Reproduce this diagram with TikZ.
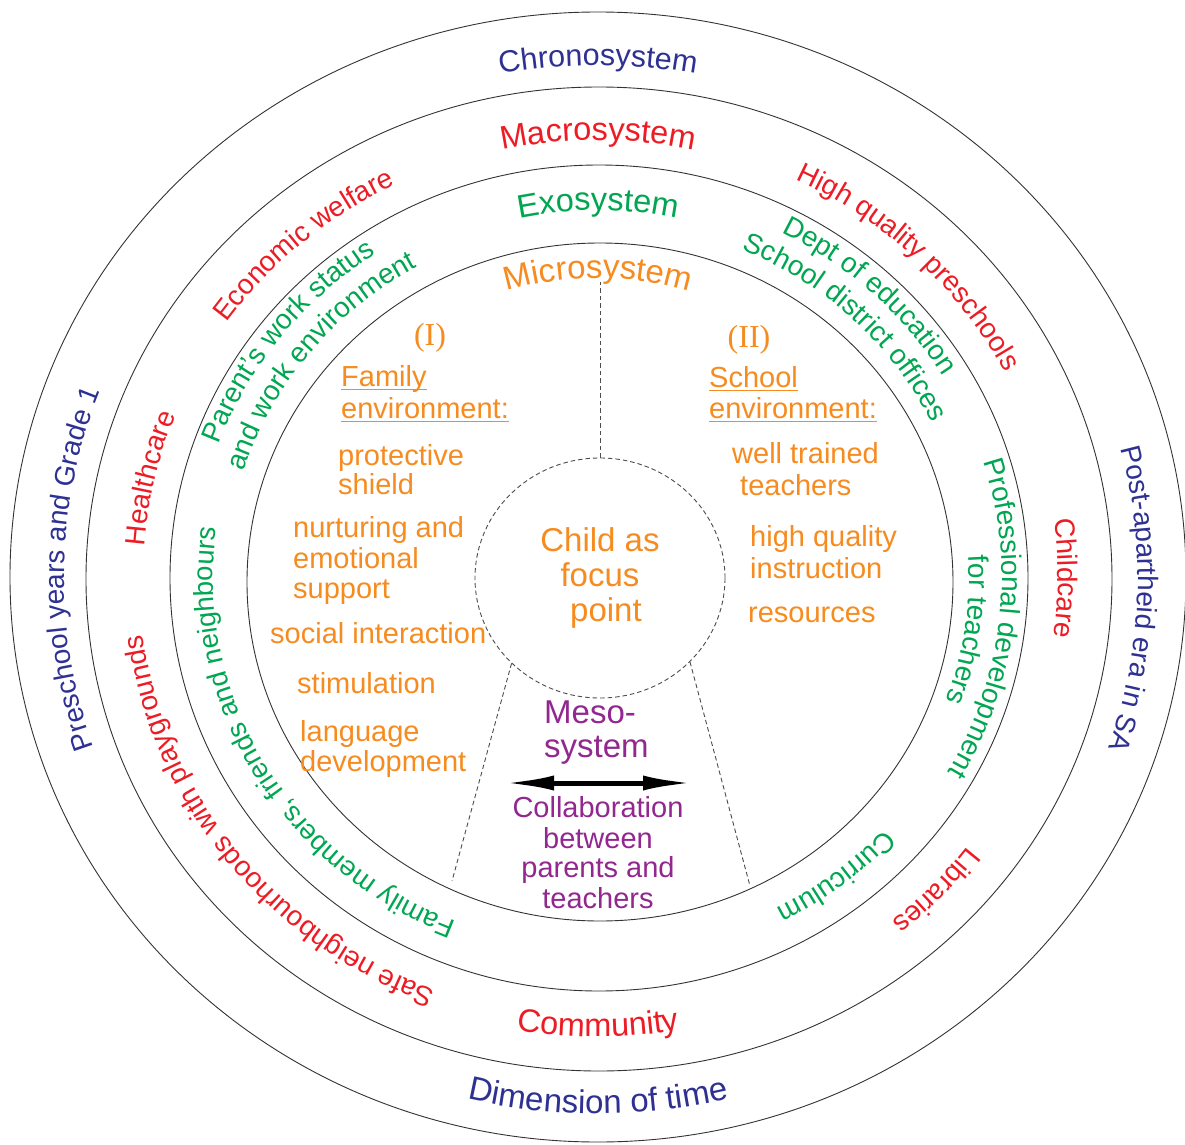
\documentclass[tikz,border=0pt]{standalone}
\usepackage{fontspec}
\setmainfont{Liberation Sans}
\newfontfamily\romanfont{Liberation Serif}
\usetikzlibrary{decorations.text,shapes.geometric,arrows.meta}

\definecolor{chronoblue}{RGB}{46,49,146}
\definecolor{macrored}{RGB}{237,28,36}
\definecolor{exogreen}{RGB}{0,166,81}
\definecolor{microorange}{RGB}{246,139,31}
\definecolor{mesopurple}{RGB}{146,39,143}

% text set clockwise along an elliptic ring (letter tops point outward)
% #1 colour, #2 size, #3 x radius of baseline, #4 centre angle, #5 half span, #6 text
\newcommand\ringlabel[6]{%
  \pgfmathsetmacro\rlry{0.96*#3}%
  \pgfmathsetmacro\rlstart{#4+#5}%
  \pgfmathsetmacro\rlend{#4-#5}%
  \path[decorate, decoration={text along path, text align=center,
      text={|\fontsize{#2}{#2}\selectfont\color{#1}|#6}}]
    (\rlstart:#3pt and \rlry pt)
    arc[start angle=\rlstart, end angle=\rlend, x radius=#3pt, y radius=\rlry pt];}
% same, counter-clockwise (letter tops point inward)
\newcommand\ringlabelccw[6]{%
  \pgfmathsetmacro\rlry{0.96*#3}%
  \pgfmathsetmacro\rlstart{#4-#5}%
  \pgfmathsetmacro\rlend{#4+#5}%
  \path[decorate, decoration={text along path, text align=center,
      text={|\fontsize{#2}{#2}\selectfont\color{#1}|#6}}]
    (\rlstart:#3pt and \rlry pt)
    arc[start angle=\rlstart, end angle=\rlend, x radius=#3pt, y radius=\rlry pt];}

% underlined heading word
\newcommand\ulword[1]{\setbox0=\hbox{#1}\rlap{\rule[-4pt]{\wd0}{1.5pt}}\box0}

\tikzset{
  ring/.style={draw=black!80, line width=0.9pt},
  guide/.style={draw=black!70, line width=0.9pt, dash pattern=on 4.5pt off 3pt},
  itemtext/.style={anchor=base west, inner sep=0pt, text=microorange,
    font=\fontsize{29}{31}\selectfont},
  romantext/.style={anchor=base, inner sep=0pt, text=microorange,
    font=\romanfont\fontsize{32}{34}\selectfont},
  mesotext/.style={inner sep=0pt, text=mesopurple, font=\fontsize{33}{35}\selectfont},
  collabtext/.style={anchor=base, inner sep=0pt, text=mesopurple,
    font=\fontsize{29}{31}\selectfont},
}

\begin{document}
\begin{tikzpicture}[x=1pt, y=1pt]
\fill[white] (-598,-566) rectangle (587,578);
\useasboundingbox (-598,-566) rectangle (587,578);

% the four system rings
\draw[ring] (0,1) ellipse [x radius=588pt, y radius=565pt];
\draw[ring] (1,-1) ellipse [x radius=513pt, y radius=492pt];
\draw[ring] (1,0) ellipse [x radius=429pt, y radius=413pt];
\draw[ring] (2,-4) ellipse [x radius=353pt, y radius=339pt];

% chronosystem ring
\ringlabel{chronoblue}{30.5}{534}{90}{30}{Chronosystem}
\ringlabel{chronoblue}{28}{534}{179}{30}{Preschool years and Grade 1}
\ringlabel{chronoblue}{28}{540}{-2.3}{30}{Post-apartheid era in SA}
\ringlabelccw{chronoblue}{33}{558}{270}{30}{Dimension of time}

% macrosystem ring
\ringlabel{macrored}{32.5}{456}{90}{30}{Macrosystem}
\ringlabel{macrored}{28}{457}{130.5}{25}{Economic welfare}
\ringlabel{macrored}{28}{455}{167}{20}{Healthcare}
\ringlabel{macrored}{28}{459}{218.2}{40}{Safe neighbourhoods with playgrounds}
\ringlabel{macrored}{28}{460}{46}{30}{High quality preschools}
\ringlabel{macrored}{28}{460}{0}{20}{Childcare}
\ringlabel{macrored}{28}{463}{-43.75}{20}{Libraries}
\ringlabelccw{macrored}{32.5}{478}{270}{25}{Community}

% exosystem ring
\ringlabel{exogreen}{32.5}{383}{90}{30}{Exosystem}
\ringlabel{exogreen}{28}{404}{141.8}{30}{Parent's work status}
\ringlabel{exogreen}{28}{371}{141.1}{35}{and work environment}
\ringlabel{exogreen}{27.5}{385}{210}{55}{Family members, friends and neighbours}
\ringlabel{exogreen}{28}{404}{47}{30}{Dept of education}
\ringlabel{exogreen}{28}{371}{46.4}{30}{School district offices}
\ringlabel{exogreen}{28}{404}{-6.2}{35}{Professional development}
\ringlabel{exogreen}{28}{371}{-8.3}{20}{for teachers}
\ringlabel{exogreen}{28}{388}{-52.4}{20}{Curriculum}

% microsystem
\ringlabel{microorange}{33}{312.5}{90}{35}{Microsystem}

% family environment
\node[romantext] (famnum) at (-168,233) {(I)};
\node[itemtext] (fam1) at (-257,192) {\ulword{Family}};
\node[itemtext] (fam2) at (-257,160) {\ulword{environment:}};
\node[itemtext] (prot1) at (-260,113) {protective};
\node[itemtext] (prot2) at (-260,84) {shield};
\node[itemtext] (nur1) at (-305,41) {nurturing and};
\node[itemtext] (nur2) at (-305,10) {emotional};
\node[itemtext] (nur3) at (-305,-20) {support};
\node[itemtext] (soc) at (-328,-65) {social interaction};
\node[itemtext] (stim) at (-301,-115) {stimulation};
\node[itemtext] (lang1) at (-298,-163) {language};
\node[itemtext] (lang2) at (-298,-193) {development};

% school environment
\node[romantext] (schnum) at (151,231) {(II)};
\node[itemtext] (sch1) at (111,191) {\ulword{School}};
\node[itemtext] (sch2) at (111,160) {\ulword{environment:}};
\node[itemtext] (well1) at (134,115) {well trained};
\node[itemtext] (well2) at (142,83) {teachers};
\node[itemtext] (hq1) at (152,32) {high quality};
\node[itemtext] (hq2) at (152,0) {instruction};
\node[itemtext] (res) at (150,-44) {resources};

% the child at the centre
\node[guide, ellipse, minimum width=250pt, minimum height=240pt, inner sep=0pt,
      align=center, text=microorange, font=\fontsize{33}{35}\selectfont]
  (child) at (2,0) {Child as\\focus\\\hspace*{12pt}point};

\coordinate (microtop) at (2,296);
\coordinate (mesoL) at (-146,-303);
\coordinate (mesoR) at (152,-308);
\draw[guide] (child.north) -- (microtop);
\draw[guide] (child.224) -- (mesoL);
\draw[guide] (child.317) -- (mesoR);

% mesosystem
\node[mesotext, anchor=base west] (meso1) at (-54,-145) {Meso-};
\node[mesotext, anchor=base west] (meso2) at (-54,-179) {system};
\coordinate (arrowL) at (-94,-205);
\coordinate (arrowR) at (95,-205);
\draw[line width=5pt, {Latex[length=50pt,width=15pt]}-{Latex[length=50pt,width=15pt]}]
  (arrowL) -- (arrowR);
\node[collabtext] (col1) at (0,-239) {Collaboration};
\node[collabtext] (col2) at (0,-270) {between};
\node[collabtext] (col3) at (0,-299) {parents and};
\node[collabtext] (col4) at (0,-330) {teachers};
\end{tikzpicture}
\end{document}
